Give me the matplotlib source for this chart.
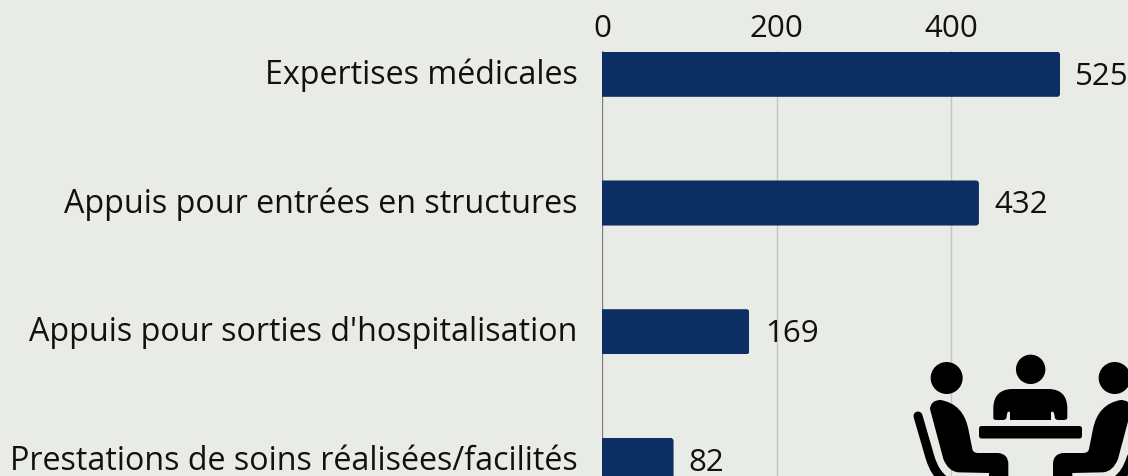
import matplotlib
matplotlib.use('Agg')
import matplotlib.pyplot as plt
from matplotlib.patches import Circle, FancyBboxPatch, PathPatch
from matplotlib.path import Path
from matplotlib.transforms import ScaledTranslation

categories = ['Expertises médicales', 'Appuis pour entrées en structures',
              "Appuis pour sorties d'hospitalisation", 'Prestations de soins réalisées/facilités']
values = [525, 432, 169, 82]
xticks = [0, 200, 400]

bg = '#e9ece6'
navy = '#0d2e63'
W, H = 1128, 477

plt.rcParams['font.family'] = ['Open Sans', 'DejaVu Sans']

fig = plt.figure(figsize=(W / 100, H / 100), dpi=100, facecolor=bg)
ax = fig.add_axes([602 / W, 0, 1 - 602 / W, 1 - 52 / H], facecolor='none')
ax.set_xlim(0, 526 / 0.8725)
ax.set_ylim(3.121, -0.181)

bars = ax.barh(range(len(values)), values, height=0.35, color=navy, zorder=3)
ax.set_xticks(xticks)
ax.set_yticks(range(len(categories)))
ax.set_yticklabels(categories, fontsize=23.2, color='#111111', va='center_baseline')
ax.tick_params(axis='y', length=0, pad=17.5)
ax.tick_params(axis='x', length=0, pad=6, labelsize=22.5, labeltop=True, labelbottom=False, labelcolor='#111111')
ax.xaxis.tick_top()
ax.grid(axis='x', color='#c3c5c1', lw=1, zorder=1)
ax.xaxis.get_gridlines()[0].set_color('#808080')
for s in ax.spines.values():
    s.set_visible(False)
# labels sit a little above the bar centres
up = ScaledTranslation(0, 3 / 72, fig.dpi_scale_trans)
for t in ax.get_yticklabels():
    t.set_transform(t.get_transform() + up)

fig.canvas.draw()
for b, v in zip(bars, values):
    # small rounding on the bar end
    (x0, y0), (x1, y1) = ax.transData.transform([(b.get_x(), b.get_y() + b.get_height()), (v, b.get_y())])
    clip = FancyBboxPatch((x0 - 10, y0), x1 - x0 + 10, y1 - y0, boxstyle='round,pad=0,rounding_size=3', transform=None)
    b.set_clip_path(clip)
    ax.annotate(str(v), (v, b.get_y() + b.get_height() / 2), xytext=(11, -1), textcoords='offset points',
                va='center', ha='left', fontsize=22.5, color='#111111', zorder=4, annotation_clip=False)

# people round a table, drawn in picture pixels
ov = fig.add_axes([0, 0, 1, 1], facecolor='none', zorder=5)
ov.set_xlim(0, W)
ov.set_ylim(H, 0)
ov.axis('off')


def px(p):
    return (880 + p[0] / 3, 340 + p[1] / 3)


body = [(Path.MOVETO, (150, 210)), (Path.CURVE3, (152, 183)), (Path.CURVE3, (182, 183)),
        (Path.CURVE3, (250, 195)), (Path.CURVE3, (265, 270)), (Path.LINETO, (277, 330)),
        (Path.CURVE3, (279, 342)), (Path.CURVE3, (295, 342)), (Path.LINETO, (355, 342)),
        (Path.CURVE3, (385, 345)), (Path.CURVE3, (385, 375)), (Path.LINETO, (385, 425)),
        (Path.LINETO, (327, 425)), (Path.LINETO, (327, 402)), (Path.LINETO, (235, 400)),
        (Path.CURVE3, (205, 398)), (Path.CURVE3, (190, 360)), (Path.CLOSEPOLY, (150, 210))]
back = [(Path.MOVETO, (114, 231)), (Path.LINETO, (150, 355)), (Path.CURVE3, (165, 405)), (Path.CURVE3, (195, 425))]
torso = [(Path.MOVETO, (340, 235)), (Path.LINETO, (340, 205)), (Path.CURVE3, (342, 152)), (Path.CURVE3, (395, 150)),
         (Path.LINETO, (508, 150)), (Path.CURVE3, (560, 152)), (Path.CURVE3, (562, 205)), (Path.LINETO, (562, 235)),
         (Path.CURVE3, (562, 243)), (Path.CURVE3, (552, 243)), (Path.LINETO, (535, 243)), (Path.CURVE3, (524, 243)),
         (Path.CURVE3, (524, 232)), (Path.CURVE3, (522, 212)), (Path.CURVE3, (513, 220)), (Path.LINETO, (513, 243)),
         (Path.LINETO, (390, 243)), (Path.LINETO, (390, 220)), (Path.CURVE3, (382, 212)), (Path.CURVE3, (380, 232)),
         (Path.CURVE3, (380, 243)), (Path.CURVE3, (368, 243)), (Path.LINETO, (350, 243)), (Path.CURVE3, (340, 243)),
         (Path.CLOSEPOLY, (340, 235))]


def add_path(segs, mirror=False, **kw):
    codes = [c for c, _ in segs]
    pts = [px((904 - p[0], p[1]) if mirror else p) for _, p in segs]
    ov.add_patch(PathPatch(Path(pts, codes), **kw))


for m in (False, True):
    add_path(body, m, fc='black', ec='none')
    add_path(back, m, fc='none', ec='black', lw=6.5, capstyle='round')
add_path(torso, fc='black', ec='none')
ov.add_patch(Circle(px((200, 117)), 16, fc='black', ec='none'))
ov.add_patch(Circle(px((704, 117)), 16, fc='black', ec='none'))
ov.add_patch(Circle(px((452, 91)), 14.7, fc='black', ec='none'))
ov.add_patch(FancyBboxPatch((979, 427), 103, 12.5, boxstyle='round,pad=0,rounding_size=2.5', fc='black', ec='none'))

fig.savefig('out.png', dpi=100, facecolor=bg)
